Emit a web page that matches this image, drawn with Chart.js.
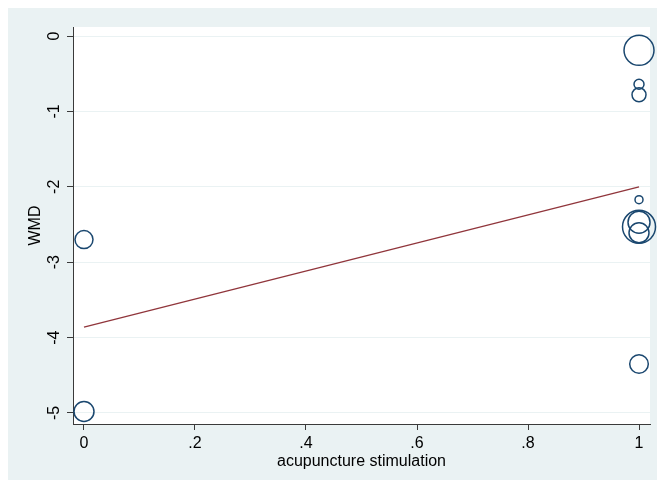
<!DOCTYPE html>
<html><head><meta charset="utf-8">
<script src="https://cdn.jsdelivr.net/npm/chart.js@4"></script>
<style>html,body{margin:0;padding:0;background:#fff}#wrap{width:657px;height:481px}</style>
</head><body><div id="wrap"><canvas id="c" width="657" height="481"></canvas></div>
<script>
// Study-level data: moderator (acupuncture stimulation) vs WMD, bubble size = weight
const studyX = [0, 0, 1, 1, 1, 1, 1, 1, 1, 1];
const studyWMD = [-2.70, -4.98, -0.19, -0.64, -0.78, -2.17, -2.53, -2.47, -2.61, -4.35];
const studyWeight = [9, 10, 15, 5, 7, 4, 16.5, 11, 10, 9.3];
// Meta-regression fitted line
const fitX = [0, 1];
const fitY = [-3.86, -2.00];
// Axis ticks
const xTickValues = [0, 0.2, 0.4, 0.6, 0.8, 1];
const xTickLabels = ['0', '.2', '.4', '.6', '.8', '1'];
const yTickValues = [0, -1, -2, -3, -4, -5];
const yTickLabels = ['0', '-1', '-2', '-3', '-4', '-5'];

const BG = '#eaf2f3';
const AXIS = '#3a3a3a';
const FONT = {family: '"Liberation Sans", Arial, sans-serif', size: 16};

const bgPlugin = {
  id: 'bg',
  beforeDraw(chart) {
    const {ctx, chartArea: a} = chart;
    ctx.save();
    ctx.fillStyle = '#ffffff';
    ctx.fillRect(0, 0, chart.width, chart.height);
    ctx.fillStyle = BG;
    ctx.fillRect(8, 8, chart.width - 8, chart.height - 9);
    ctx.fillStyle = '#ffffff';
    ctx.fillRect(a.left, a.top, a.right - a.left, a.bottom - a.top);
    ctx.restore();
  }
};

new Chart(document.getElementById('c'), {
  data: {
    datasets: [
      {
        type: 'bubble',
        data: studyX.map((x, i) => ({x: x, y: studyWMD[i], r: studyWeight[i]})),
        backgroundColor: 'rgba(0,0,0,0)',
        borderColor: '#1a476f',
        borderWidth: 1.5,
        clip: false,
        order: 2
      },
      {
        type: 'line',
        data: fitX.map((x, i) => ({x: x, y: fitY[i]})),
        borderColor: '#90353b',
        borderWidth: 1.3,
        pointRadius: 0,
        fill: false,
        order: 1
      }
    ]
  },
  options: {
    responsive: false,
    animation: false,
    devicePixelRatio: 1,
    layout: {autoPadding: false, padding: {top: 27, right: 7, bottom: 0, left: 0}},
    plugins: {legend: {display: false}, tooltip: {enabled: false}},
    scales: {
      x: {
        type: 'linear',
        min: -0.0198,
        max: 1.0198,
        afterBuildTicks: s => { s.ticks = xTickValues.map(v => ({value: v})); },
        afterFit: s => { s.height = 57; },
        ticks: {
          callback: v => xTickLabels[xTickValues.indexOf(v)],
          font: FONT, color: '#000', padding: 4, maxRotation: 0, autoSkip: false
        },
        grid: {drawOnChartArea: false, drawTicks: true, tickLength: 6, tickColor: AXIS},
        border: {display: true, color: AXIS, width: 1},
        title: {display: true, text: 'acupuncture stimulation', font: FONT, color: '#000', padding: {top: 0, bottom: 10}}
      },
      y: {
        type: 'linear',
        min: -5.146,
        max: 0.12,
        afterBuildTicks: s => { s.ticks = yTickValues.map(v => ({value: v})); },
        afterFit: s => { s.width = 73; },
        ticks: {
          callback: v => yTickLabels[yTickValues.indexOf(v)],
          font: FONT, color: '#000', padding: 5, minRotation: 90, maxRotation: 90,
          crossAlign: 'center', autoSkip: false
        },
        grid: {color: BG, lineWidth: 1, drawTicks: true, tickLength: 6, tickColor: AXIS},
        border: {display: true, color: AXIS, width: 1},
        title: {display: true, text: 'WMD', font: FONT, color: '#000', padding: {top: 26, bottom: 0}}
      }
    }
  },
  plugins: [bgPlugin]
});
</script>
</body></html>
